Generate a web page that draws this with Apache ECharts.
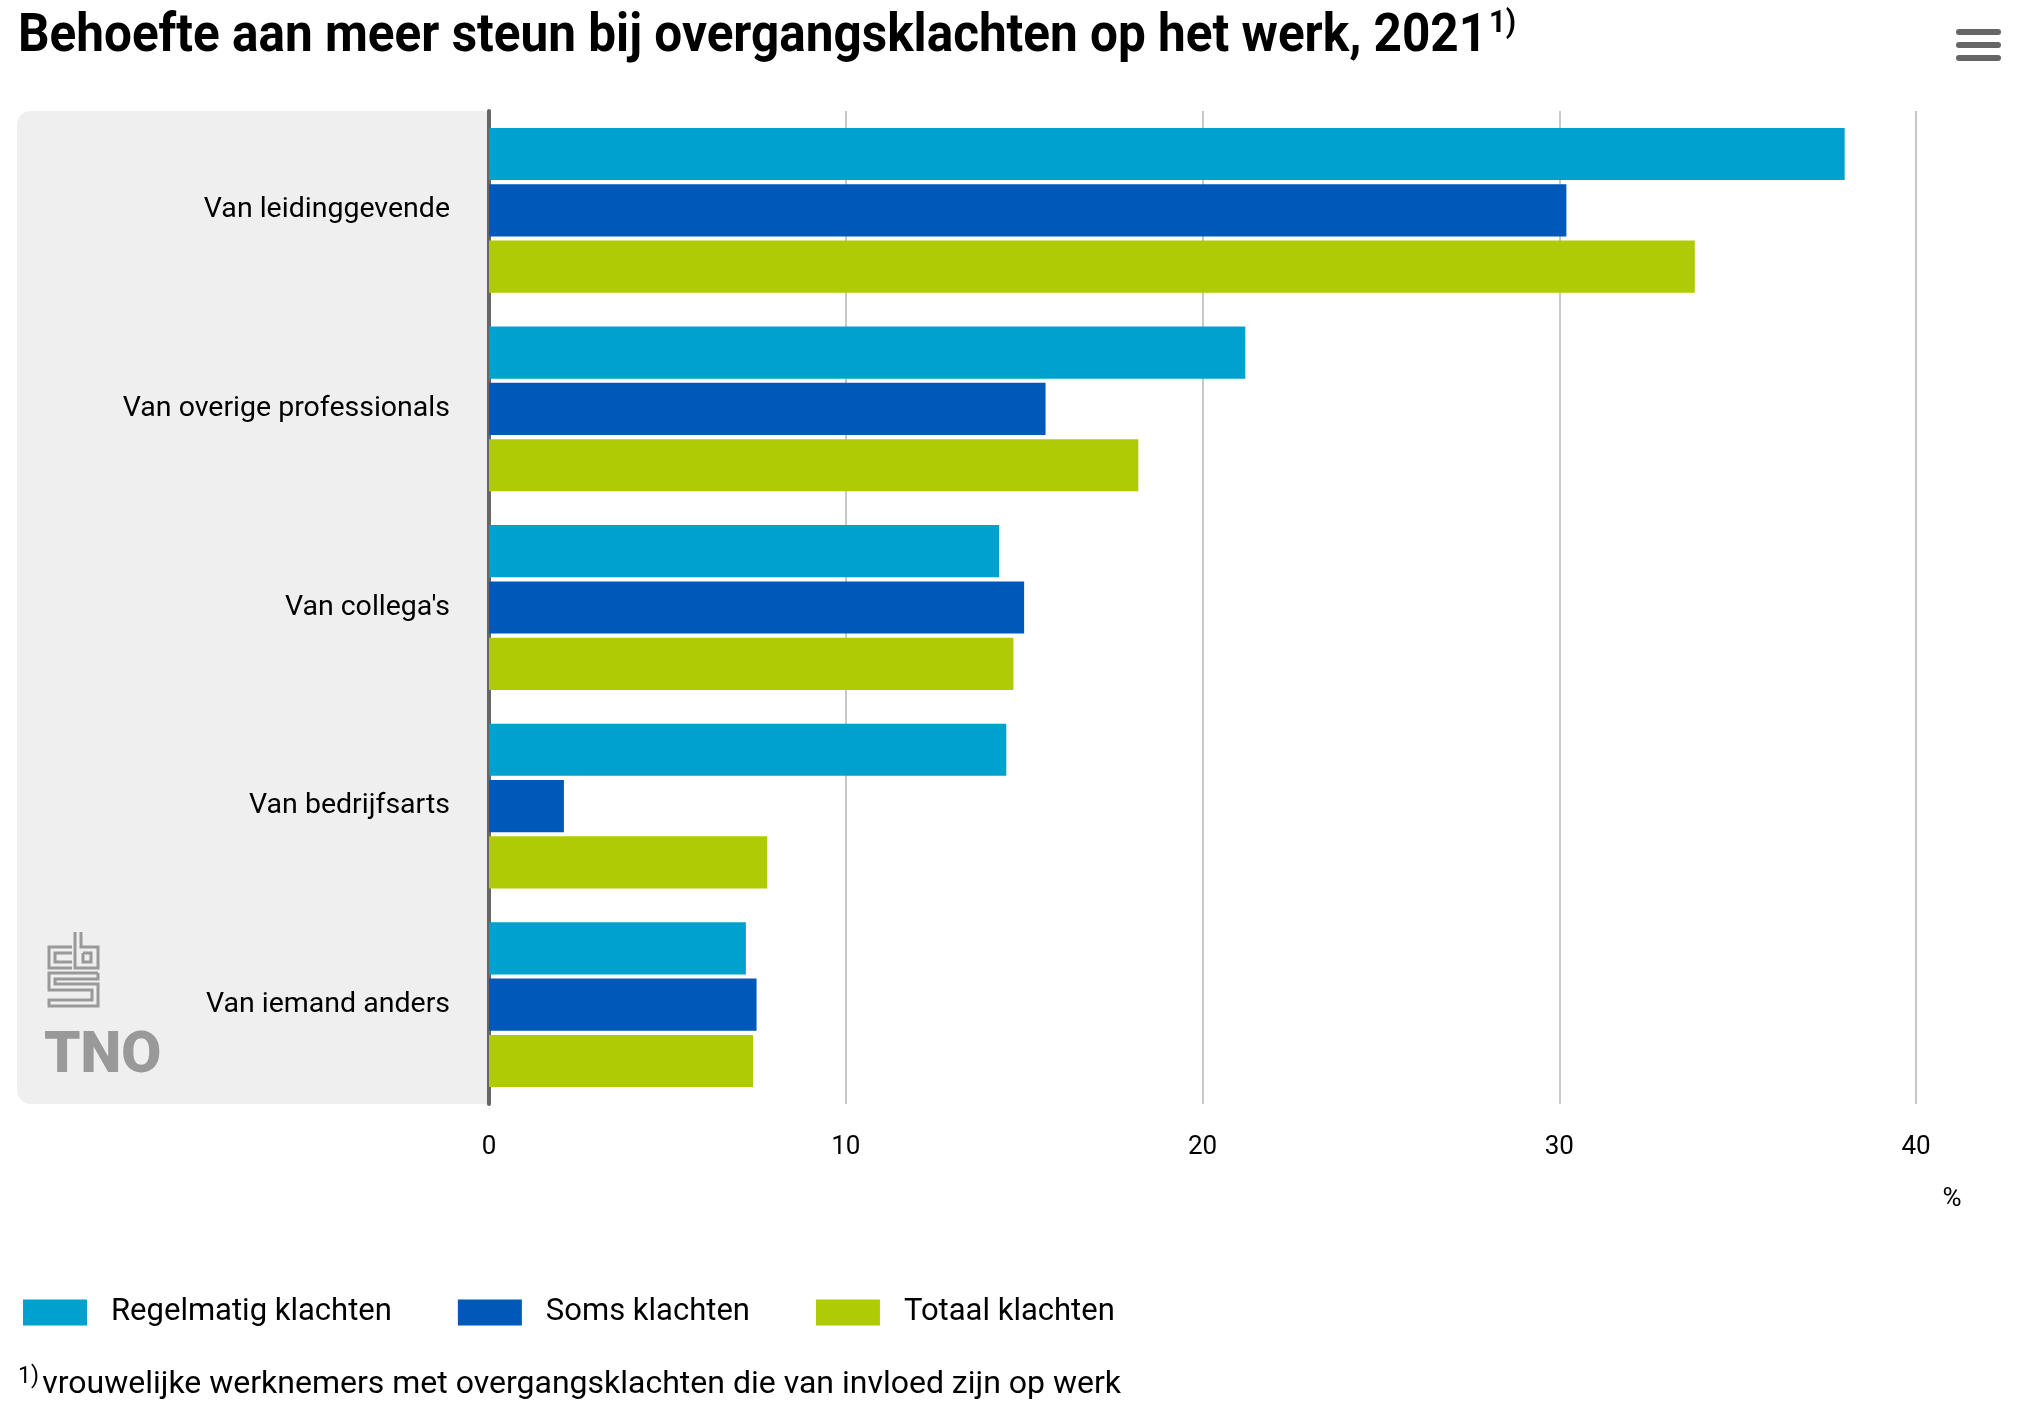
<!DOCTYPE html>
<html>
<head>
<meta charset="utf-8">
<script src="https://cdn.jsdelivr.net/npm/echarts@6/dist/echarts.min.js"></script>
<style>
html,body{margin:0;padding:0;background:#fff;}
#chart{width:2018px;height:1410px;}
</style>
</head>
<body>
<div id="chart"></div>
<script>
const categories = ["Van leidinggevende", "Van overige professionals", "Van collega's", "Van bedrijfsarts", "Van iemand anders"];
const regelmatig = [38.0, 21.2, 14.3, 14.5, 7.2];
const soms = [30.2, 15.6, 15.0, 2.1, 7.5];
const totaal = [33.8, 18.2, 14.7, 7.8, 7.4];
const seriesNames = ["Regelmatig klachten", "Soms klachten", "Totaal klachten"];
const xTicks = { min: 0, max: 40, interval: 10 };

const FONT = 'Roboto';
const chart = echarts.init(document.getElementById('chart'));

const cbsPaths = [
  [[72,947],[49,947],[49,968],[72,968]],
  [[72,953],[55,953],[55,962],[72,962]],
  [[75,932],[75,968],[98,968],[98,947],[81,947],[81,932]],
  [[83,953],[91,953],[91,962],[83,962],[83,953]],
  [[98,973],[49,973],[49,990],[92,990],[92,1000],[49,1000],[49,1006],[98,1006],[98,984],[55,984],[55,979],[98,979],[98,973]]
];

const graphics = [
  { type: 'rect', z: -10, shape: { x: 17, y: 111, width: 472, height: 993, r: [14, 0, 0, 14] }, style: { fill: '#efefef' }, silent: true },
  { type: 'text', x: 18, y: 6, scaleX: 0.916, style: {
      text: '{m|Behoefte aan meer steun bij overgangsklachten op het werk, 2021}{s|1)}',
      rich: {
        m: { fontFamily: FONT, fontWeight: 'bold', fontSize: 54, fill: '#000', lineHeight: 62 },
        s: { fontFamily: FONT, fontWeight: 'bold', fontSize: 32, fill: '#000', padding: [0, 0, 26, 2], lineHeight: 62 }
      } } },
  { type: 'rect', shape: { x: 1956, y: 29, width: 45, height: 6, r: 3 }, style: { fill: '#666' } },
  { type: 'rect', shape: { x: 1956, y: 42, width: 45, height: 6, r: 3 }, style: { fill: '#666' } },
  { type: 'rect', shape: { x: 1956, y: 55, width: 45, height: 6, r: 3 }, style: { fill: '#666' } },
  { type: 'text', x: 1952, y: 1199, style: { text: '%', fontFamily: FONT, fontSize: 26, fill: '#000', textAlign: 'center', textVerticalAlign: 'middle' } },
  { type: 'text', x: 18, y: 1365, style: {
      text: '{s|1)} {m|vrouwelijke werknemers met overgangsklachten die van invloed zijn op werk}',
      rich: {
        m: { fontFamily: FONT, fontSize: 32, fill: '#000', lineHeight: 40 },
        s: { fontFamily: FONT, fontSize: 23, fill: '#000', padding: [0, 0, 16, 0], lineHeight: 40 }
      } } },
  { type: 'text', x: 44, y: 1028, style: { text: 'TNO', fontFamily: FONT, fontWeight: 900, fontSize: 58, fill: '#999', textVerticalAlign: 'top' } }
];
cbsPaths.forEach(p => graphics.push({ type: 'polyline', shape: { points: p }, style: { stroke: '#999', lineWidth: 3, fill: null } }));

const colors = ['#00a1cd', '#0058b8', '#afcb05'];
const mkSeries = (name, data, i) => ({
  name: name, type: 'bar', data: data,
  barCategoryGap: '17%', barGap: '8%',
  itemStyle: { color: colors[i] },
  emphasis: { disabled: true }
});

chart.setOption({
  animation: false,
  backgroundColor: '#fff',
  grid: { left: 489, right: 102, top: 111, bottom: 306, containLabel: false },
  xAxis: {
    type: 'value', min: xTicks.min, max: xTicks.max, interval: xTicks.interval,
    axisLine: { show: false }, axisTick: { show: false },
    splitLine: { show: true, lineStyle: { color: '#c8c8c8', width: 2 } },
    axisLabel: { fontFamily: FONT, fontSize: 26, color: '#000', margin: 30 }
  },
  yAxis: {
    type: 'category', data: categories, inverse: true,
    axisLine: { show: true, lineStyle: { color: '#666', width: 4 } },
    axisTick: { show: false },
    axisLabel: { fontFamily: FONT, fontSize: 28.5, color: '#000', margin: 39, padding: [10, 0, 0, 0] }
  },
  legend: {
    left: 18, top: 1292, icon: 'rect', itemWidth: 64, itemHeight: 26, itemGap: 66,
    textStyle: { fontFamily: FONT, fontSize: 31, color: '#000', padding: [0, 0, 0, 19] },
    data: seriesNames
  },
  series: [
    mkSeries(seriesNames[0], regelmatig, 0),
    mkSeries(seriesNames[1], soms, 1),
    mkSeries(seriesNames[2], totaal, 2)
  ],
  graphic: graphics
});
</script>
</body>
</html>
